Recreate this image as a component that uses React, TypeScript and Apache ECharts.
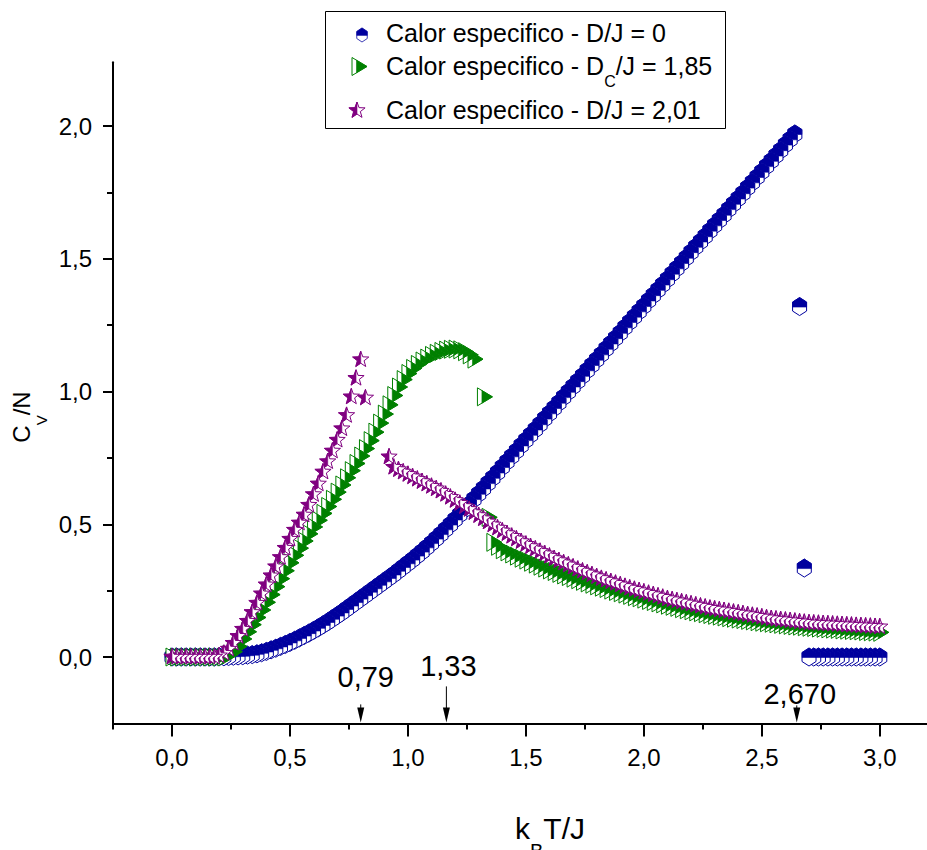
import React, { useEffect, useRef } from "react";
import * as echarts from "echarts";

// ---------- data ----------
// reduced temperature k_B T / J (sampling grid of the simulation)
const T = [
  0, 0.02, 0.04, 0.06, 0.08, 0.1, 0.12, 0.14, 0.16, 0.18,
  0.2, 0.22, 0.24, 0.26, 0.28, 0.3, 0.32, 0.34, 0.36, 0.38,
  0.4, 0.42, 0.44, 0.46, 0.48, 0.5, 0.52, 0.54, 0.56, 0.58,
  0.6, 0.62, 0.64, 0.66, 0.68, 0.7, 0.72, 0.74, 0.76, 0.78,
  0.8, 0.82, 0.84, 0.86, 0.88, 0.9, 0.92, 0.94, 0.96, 0.98,
  1, 1.02, 1.04, 1.06, 1.08, 1.1, 1.12, 1.14, 1.16, 1.18,
  1.2, 1.22, 1.24, 1.26, 1.28, 1.3, 1.32, 1.34, 1.36, 1.38,
  1.4, 1.42, 1.44, 1.46, 1.48, 1.5, 1.52, 1.54, 1.56, 1.58,
  1.6, 1.62, 1.64, 1.66, 1.68, 1.7, 1.72, 1.74, 1.76, 1.78,
  1.8, 1.82, 1.84, 1.86, 1.88, 1.9, 1.92, 1.94, 1.96, 1.98,
  2, 2.02, 2.04, 2.06, 2.08, 2.1, 2.12, 2.14, 2.16, 2.18,
  2.2, 2.22, 2.24, 2.26, 2.28, 2.3, 2.32, 2.34, 2.36, 2.38,
  2.4, 2.42, 2.44, 2.46, 2.48, 2.5, 2.52, 2.54, 2.56, 2.58,
  2.6, 2.62, 2.64, 2.66, 2.68, 2.7, 2.72, 2.74, 2.76, 2.78,
  2.8, 2.82, 2.84, 2.86, 2.88, 2.9, 2.92, 2.94, 2.96, 2.98,
  3,
];

// C_V/N, D/J = 0
const CV_DJ_0 = [
  0, 0, 0, 0, 0, 0, 0, 0, 0, 0,
  0.001, 0.001, 0.002, 0.003, 0.004, 0.005, 0.007, 0.009, 0.012, 0.016,
  0.021, 0.027, 0.033, 0.04, 0.047, 0.055, 0.063, 0.072, 0.081, 0.09,
  0.1, 0.11, 0.121, 0.132, 0.144, 0.156, 0.168, 0.181, 0.194, 0.207,
  0.22, 0.233, 0.246, 0.259, 0.272, 0.285, 0.298, 0.311, 0.325, 0.339,
  0.353, 0.367, 0.382, 0.397, 0.413, 0.429, 0.446, 0.463, 0.481, 0.499,
  0.518, 0.537, 0.556, 0.575, 0.595, 0.615, 0.635, 0.655, 0.675, 0.695,
  0.716, 0.736, 0.756, 0.776, 0.797, 0.817, 0.837, 0.857, 0.877, 0.898,
  0.918, 0.938, 0.958, 0.979, 0.999, 1.019, 1.039, 1.059, 1.08, 1.1,
  1.12, 1.14, 1.161, 1.181, 1.201, 1.221, 1.242, 1.262, 1.282, 1.302,
  1.322, 1.343, 1.363, 1.383, 1.403, 1.423, 1.444, 1.464, 1.484, 1.504,
  1.525, 1.545, 1.565, 1.585, 1.606, 1.626, 1.646, 1.666, 1.687, 1.707,
  1.727, 1.747, 1.768, 1.788, 1.808, 1.828, 1.849, 1.869, 1.889, 1.909,
  1.93, 1.95, 1.97, 1.32, 0.335, 0, 0, 0, 0, 0,
  0, 0, 0, 0, 0, 0, 0, 0, 0, 0,
  0,
];

// C_V/N, D_C/J = 1,85
const CV_DC_185 = [
  0, 0, 0, 0, 0, 0, 0, 0, 0, 0,
  0, 0, 0.008, 0.02, 0.04, 0.068, 0.095, 0.122, 0.149, 0.177,
  0.206, 0.235, 0.265, 0.295, 0.325, 0.355, 0.383, 0.41, 0.437, 0.464,
  0.49, 0.515, 0.541, 0.567, 0.594, 0.621, 0.648, 0.675, 0.702, 0.729,
  0.757, 0.785, 0.815, 0.847, 0.881, 0.915, 0.95, 0.985, 1.017, 1.045,
  1.068, 1.087, 1.102, 1.115, 1.126, 1.136, 1.144, 1.151, 1.156, 1.159,
  1.16, 1.157, 1.15, 1.138, 1.122, null, 0.98, 0.526, 0.432, 0.417,
  0.404, 0.396, 0.388, 0.38, 0.372, 0.365, 0.357, 0.35, 0.342, 0.335,
  0.328, 0.322, 0.315, 0.309, 0.303, 0.297, 0.291, 0.285, 0.279, 0.274,
  0.268, 0.263, 0.258, 0.252, 0.247, 0.242, 0.237, 0.232, 0.227, 0.223,
  0.218, 0.213, 0.209, 0.204, 0.2, 0.195, 0.191, 0.187, 0.182, 0.178,
  0.174, 0.17, 0.167, 0.163, 0.16, 0.157, 0.154, 0.151, 0.148, 0.146,
  0.143, 0.141, 0.138, 0.136, 0.133, 0.131, 0.129, 0.127, 0.125, 0.123,
  0.121, 0.119, 0.117, 0.116, 0.114, 0.112, 0.111, 0.109, 0.108, 0.106,
  0.105, 0.104, 0.102, 0.101, 0.1, 0.099, 0.098, 0.096, 0.095, 0.094,
  0.093,
];

// C_V/N, D/J = 2,01
const CV_DJ_201 = [
  0, 0, 0, 0, 0, 0, 0, 0, 0, 0,
  0.005, 0.014, 0.03, 0.052, 0.078, 0.105, 0.135, 0.168, 0.203, 0.238,
  0.272, 0.306, 0.34, 0.375, 0.41, 0.444, 0.478, 0.505, 0.535, 0.572,
  0.612, 0.652, 0.697, 0.736, 0.776, 0.817, 0.86, 0.91, 0.98, 1.05,
  1.12, 0.976, null, null, null, null, 0.754, 0.715, 0.706, 0.697,
  0.688, 0.679, 0.67, 0.661, 0.652, 0.643, 0.634, 0.625, 0.613, 0.602,
  0.59, 0.579, 0.567, 0.556, 0.544, 0.533, 0.521, 0.509, 0.498, 0.486,
  0.475, 0.465, 0.455, 0.445, 0.435, 0.425, 0.416, 0.407, 0.398, 0.389,
  0.38, 0.371, 0.363, 0.355, 0.347, 0.339, 0.331, 0.324, 0.317, 0.31,
  0.303, 0.296, 0.29, 0.284, 0.278, 0.272, 0.266, 0.26, 0.255, 0.25,
  0.245, 0.24, 0.235, 0.23, 0.225, 0.22, 0.216, 0.212, 0.208, 0.204,
  0.2, 0.196, 0.192, 0.188, 0.184, 0.181, 0.178, 0.175, 0.172, 0.169,
  0.166, 0.163, 0.16, 0.157, 0.154, 0.151, 0.148, 0.145, 0.143, 0.141,
  0.139, 0.137, 0.135, 0.133, 0.131, 0.129, 0.128, 0.127, 0.126, 0.125,
  0.124, 0.123, 0.122, 0.121, 0.12, 0.119, 0.118, 0.117, 0.116, 0.115,
  0.114,
];

const SERIES_NAMES = [
  "Calor especifico - D/J = 0",
  "Calor especifico - D_C/J = 1,85",
  "Calor especifico - D/J = 2,01",
];

// axis ticks
const X_MIN = -0.25;
const X_MAX = 3.2;
const Y_MIN = -0.25;
const Y_MAX = 2.24;
const X_MAJOR = [0, 0.5, 1, 1.5, 2, 2.5, 3];
const X_MINOR = [-0.25, 0.25, 0.75, 1.25, 1.75, 2.25, 2.75];
const Y_MAJOR = [0, 0.5, 1, 1.5, 2];
const Y_MINOR = [0.25, 0.75, 1.25, 1.75];

// arrow annotations on the temperature axis
const ANN_X = [0.8, 1.163, 2.648];
const ANN_TEXT = ["0,79", "1,33", "2,670"];

// ---------- styles / layout ----------
const FONT = "'Liberation Sans', Arial, Helvetica, sans-serif";
const BLUE = "#00009E";
const GREEN = "#008000";
const PURPLE = "#800080";

const ANN_LAYOUT = [
  { dx: 5, dy: -46, stem: 18 },
  { dx: 2, dy: -57, stem: 36 },
  { dx: 3, dy: -29, stem: 17 },
];

const HEX_FULL = [[0, -9], [7, -4.5], [7, 4.5], [0, 9], [-7, 4.5], [-7, -4.5]];
const HEX_HALF = [[-7, 0.5], [-7, -4.5], [0, -9], [7, -4.5], [7, 0.5]];
const TRI_FULL = [[-6, -9], [9, 0], [-6, 9]];
const TRI_HALF = [[-1.5, -6.3], [9, 0], [-1.5, 6.3]];
const STAR_FULL = [
  [0, -8.5], [2.06, -2.83], [8.08, -2.63], [3.33, 1.08], [5, 6.88],
  [0, 3.5], [-5, 6.88], [-3.33, 1.08], [-8.08, -2.63], [-2.06, -2.83],
];
const STAR_HALF = [[0, -8.5], [0, 3.5], [-5, 6.88], [-3.33, 1.08], [-8.08, -2.63], [-2.06, -2.83]];

const fmt = (v: number) => v.toFixed(1).replace(".", ",");

// points are drawn from high to low temperature (the order of the simulation run)
const toPairs = (ys: (number | null)[]) =>
  T.map((t, i) => [t, ys[i]])
    .filter((p) => p[1] !== null && p[1] !== undefined)
    .reverse();

function markerChildren(full: number[][], half: number[][], color: string, z?: number) {
  const zz = z === undefined ? {} : { z };
  return [
    { type: "polygon", ...zz, shape: { points: full }, style: { fill: "#fff", stroke: color, lineWidth: 1 } },
    { type: "polygon", ...zz, shape: { points: half }, style: { fill: color, stroke: color, lineWidth: 0.6 } },
  ];
}

function markerSeries(name: string, ys: (number | null)[], full: number[][], half: number[][], color: string) {
  return {
    type: "custom",
    name,
    coordinateSystem: "cartesian2d",
    xAxisIndex: 0,
    yAxisIndex: 0,
    silent: true,
    data: toPairs(ys),
    encode: { x: 0, y: 1 },
    renderItem: (_params: any, api: any) => {
      const p = api.coord([api.value(0), api.value(1)]);
      return { type: "group", x: p[0], y: p[1], children: markerChildren(full, half, color) };
    },
  };
}

const tickStyle = { color: "#000", width: 2 };

function buildOption() {
  return {
    animation: false,
    backgroundColor: "#fff",
    grid: { left: 113, right: 0, top: 62.3, bottom: 126.6, outerBoundsMode: "none" },
    xAxis: [
      {
        type: "value",
        min: X_MIN,
        max: X_MAX,
        position: "bottom",
        axisLine: { show: true, onZero: false, lineStyle: { color: "#000", width: 2 } },
        splitLine: { show: false },
        axisTick: { show: true, customValues: X_MAJOR, length: 13, lineStyle: tickStyle },
        axisLabel: {
          customValues: X_MAJOR,
          formatter: fmt,
          margin: 22,
          fontSize: 24,
          color: "#000",
          fontFamily: FONT,
        },
      },
      {
        type: "value",
        min: X_MIN,
        max: X_MAX,
        position: "bottom",
        axisLine: { show: false, onZero: false },
        splitLine: { show: false },
        axisTick: { show: true, customValues: X_MINOR, length: 6, lineStyle: tickStyle },
        axisLabel: { show: false },
      },
    ],
    yAxis: [
      {
        type: "value",
        min: Y_MIN,
        max: Y_MAX,
        position: "left",
        axisLine: { show: true, onZero: false, lineStyle: { color: "#000", width: 2 } },
        splitLine: { show: false },
        axisTick: { show: true, customValues: Y_MAJOR, length: 10, lineStyle: tickStyle },
        axisLabel: {
          customValues: Y_MAJOR,
          formatter: fmt,
          margin: 21,
          fontSize: 24,
          color: "#000",
          fontFamily: FONT,
        },
      },
      {
        type: "value",
        min: Y_MIN,
        max: Y_MAX,
        position: "left",
        axisLine: { show: false, onZero: false },
        splitLine: { show: false },
        axisTick: { show: true, customValues: Y_MINOR, length: 6, lineStyle: tickStyle },
        axisLabel: { show: false },
      },
    ],
    series: [
      markerSeries(SERIES_NAMES[0], CV_DJ_0, HEX_FULL, HEX_HALF, BLUE),
      markerSeries(SERIES_NAMES[1], CV_DC_185, TRI_FULL, TRI_HALF, GREEN),
      markerSeries(SERIES_NAMES[2], CV_DJ_201, STAR_FULL, STAR_HALF, PURPLE),
      {
        type: "custom",
        name: "annotations",
        coordinateSystem: "cartesian2d",
        xAxisIndex: 0,
        yAxisIndex: 0,
        silent: true,
        data: ANN_X.map((x) => [x, Y_MIN]),
        encode: { x: 0, y: 1 },
        renderItem: (params: any, api: any) => {
          const i = params.dataIndex;
          const L = ANN_LAYOUT[i];
          const p = api.coord([api.value(0), api.value(1)]);
          return {
            type: "group",
            x: p[0],
            y: p[1] - 1,
            children: [
              { type: "line", shape: { x1: 0, y1: -L.stem, x2: 0, y2: -12 }, style: { stroke: "#000", lineWidth: 1 } },
              { type: "polygon", shape: { points: [[-3.5, -15], [3.5, -15], [0, 0]] }, style: { fill: "#000" } },
              {
                type: "text",
                x: L.dx,
                y: L.dy + 1,
                style: {
                  text: ANN_TEXT[i],
                  fontSize: 29,
                  fontFamily: FONT,
                  fill: "#000",
                  align: "center",
                  verticalAlign: "middle",
                },
              },
            ],
          };
        },
      },
    ],
    graphic: {
      elements: [
        // legend box
        {
          type: "rect",
          shape: { x: 325.5, y: 11.5, width: 400, height: 117 },
          style: { fill: "#fff", stroke: "#000", lineWidth: 1 },
          z: 100,
        },
        { type: "group", x: 362, y: 35, scaleX: 0.75, scaleY: 0.78, children: markerChildren(HEX_FULL, HEX_HALF, BLUE, 102) },
        { type: "group", x: 358, y: 66.5, children: markerChildren(TRI_FULL, TRI_HALF, GREEN, 102) },
        { type: "group", x: 357, y: 110.5, children: markerChildren(STAR_FULL, STAR_HALF, PURPLE, 102) },
        {
          type: "text",
          x: 386,
          y: 33,
          z: 101,
          style: { text: SERIES_NAMES[0], fontSize: 25, fontFamily: FONT, fill: "#000", align: "left", verticalAlign: "middle" },
        },
        {
          type: "text",
          x: 386,
          y: 66,
          z: 101,
          style: {
            text: "{m|Calor especifico - D}{s|C}{m|/J = 1,85}",
            align: "left",
            verticalAlign: "middle",
            rich: {
              m: { fontSize: 25, fontFamily: FONT, fill: "#000", lineHeight: 46 },
              s: { fontSize: 16, fontFamily: FONT, fill: "#000", lineHeight: 16, verticalAlign: "bottom" },
            },
          },
        },
        {
          type: "text",
          x: 386,
          y: 110,
          z: 101,
          style: { text: SERIES_NAMES[2], fontSize: 25, fontFamily: FONT, fill: "#000", align: "left", verticalAlign: "middle" },
        },
        // axis titles
        {
          type: "text",
          x: 21.5,
          y: 417,
          rotation: Math.PI / 2,
          style: {
            text: "{m|C}{s|V}{m|/N}",
            align: "center",
            verticalAlign: "middle",
            rich: {
              m: { fontSize: 24, fontFamily: FONT, fill: "#000", lineHeight: 54 },
              s: { fontSize: 15, fontFamily: FONT, fill: "#000", lineHeight: 15, verticalAlign: "bottom" },
            },
          },
        },
        {
          type: "text",
          x: 550,
          y: 828,
          style: {
            text: "{m|k}{s|B}{m|T/J}",
            align: "center",
            verticalAlign: "middle",
            rich: {
              m: { fontSize: 30, fontFamily: FONT, fill: "#000", lineHeight: 66 },
              s: { fontSize: 20, fontFamily: FONT, fill: "#000", lineHeight: 20, verticalAlign: "bottom" },
            },
          },
        },
      ],
    },
  };
}

export default function App() {
  const ref = useRef<HTMLDivElement>(null);
  useEffect(() => {
    document.body.style.margin = "0";
    if (!ref.current) return;
    const chart = echarts.init(ref.current, null, { renderer: "svg" });
    chart.setOption(buildOption() as any);
    return () => chart.dispose();
  }, []);
  return <div ref={ref} style={{ width: 927, height: 850 }} />;
}
